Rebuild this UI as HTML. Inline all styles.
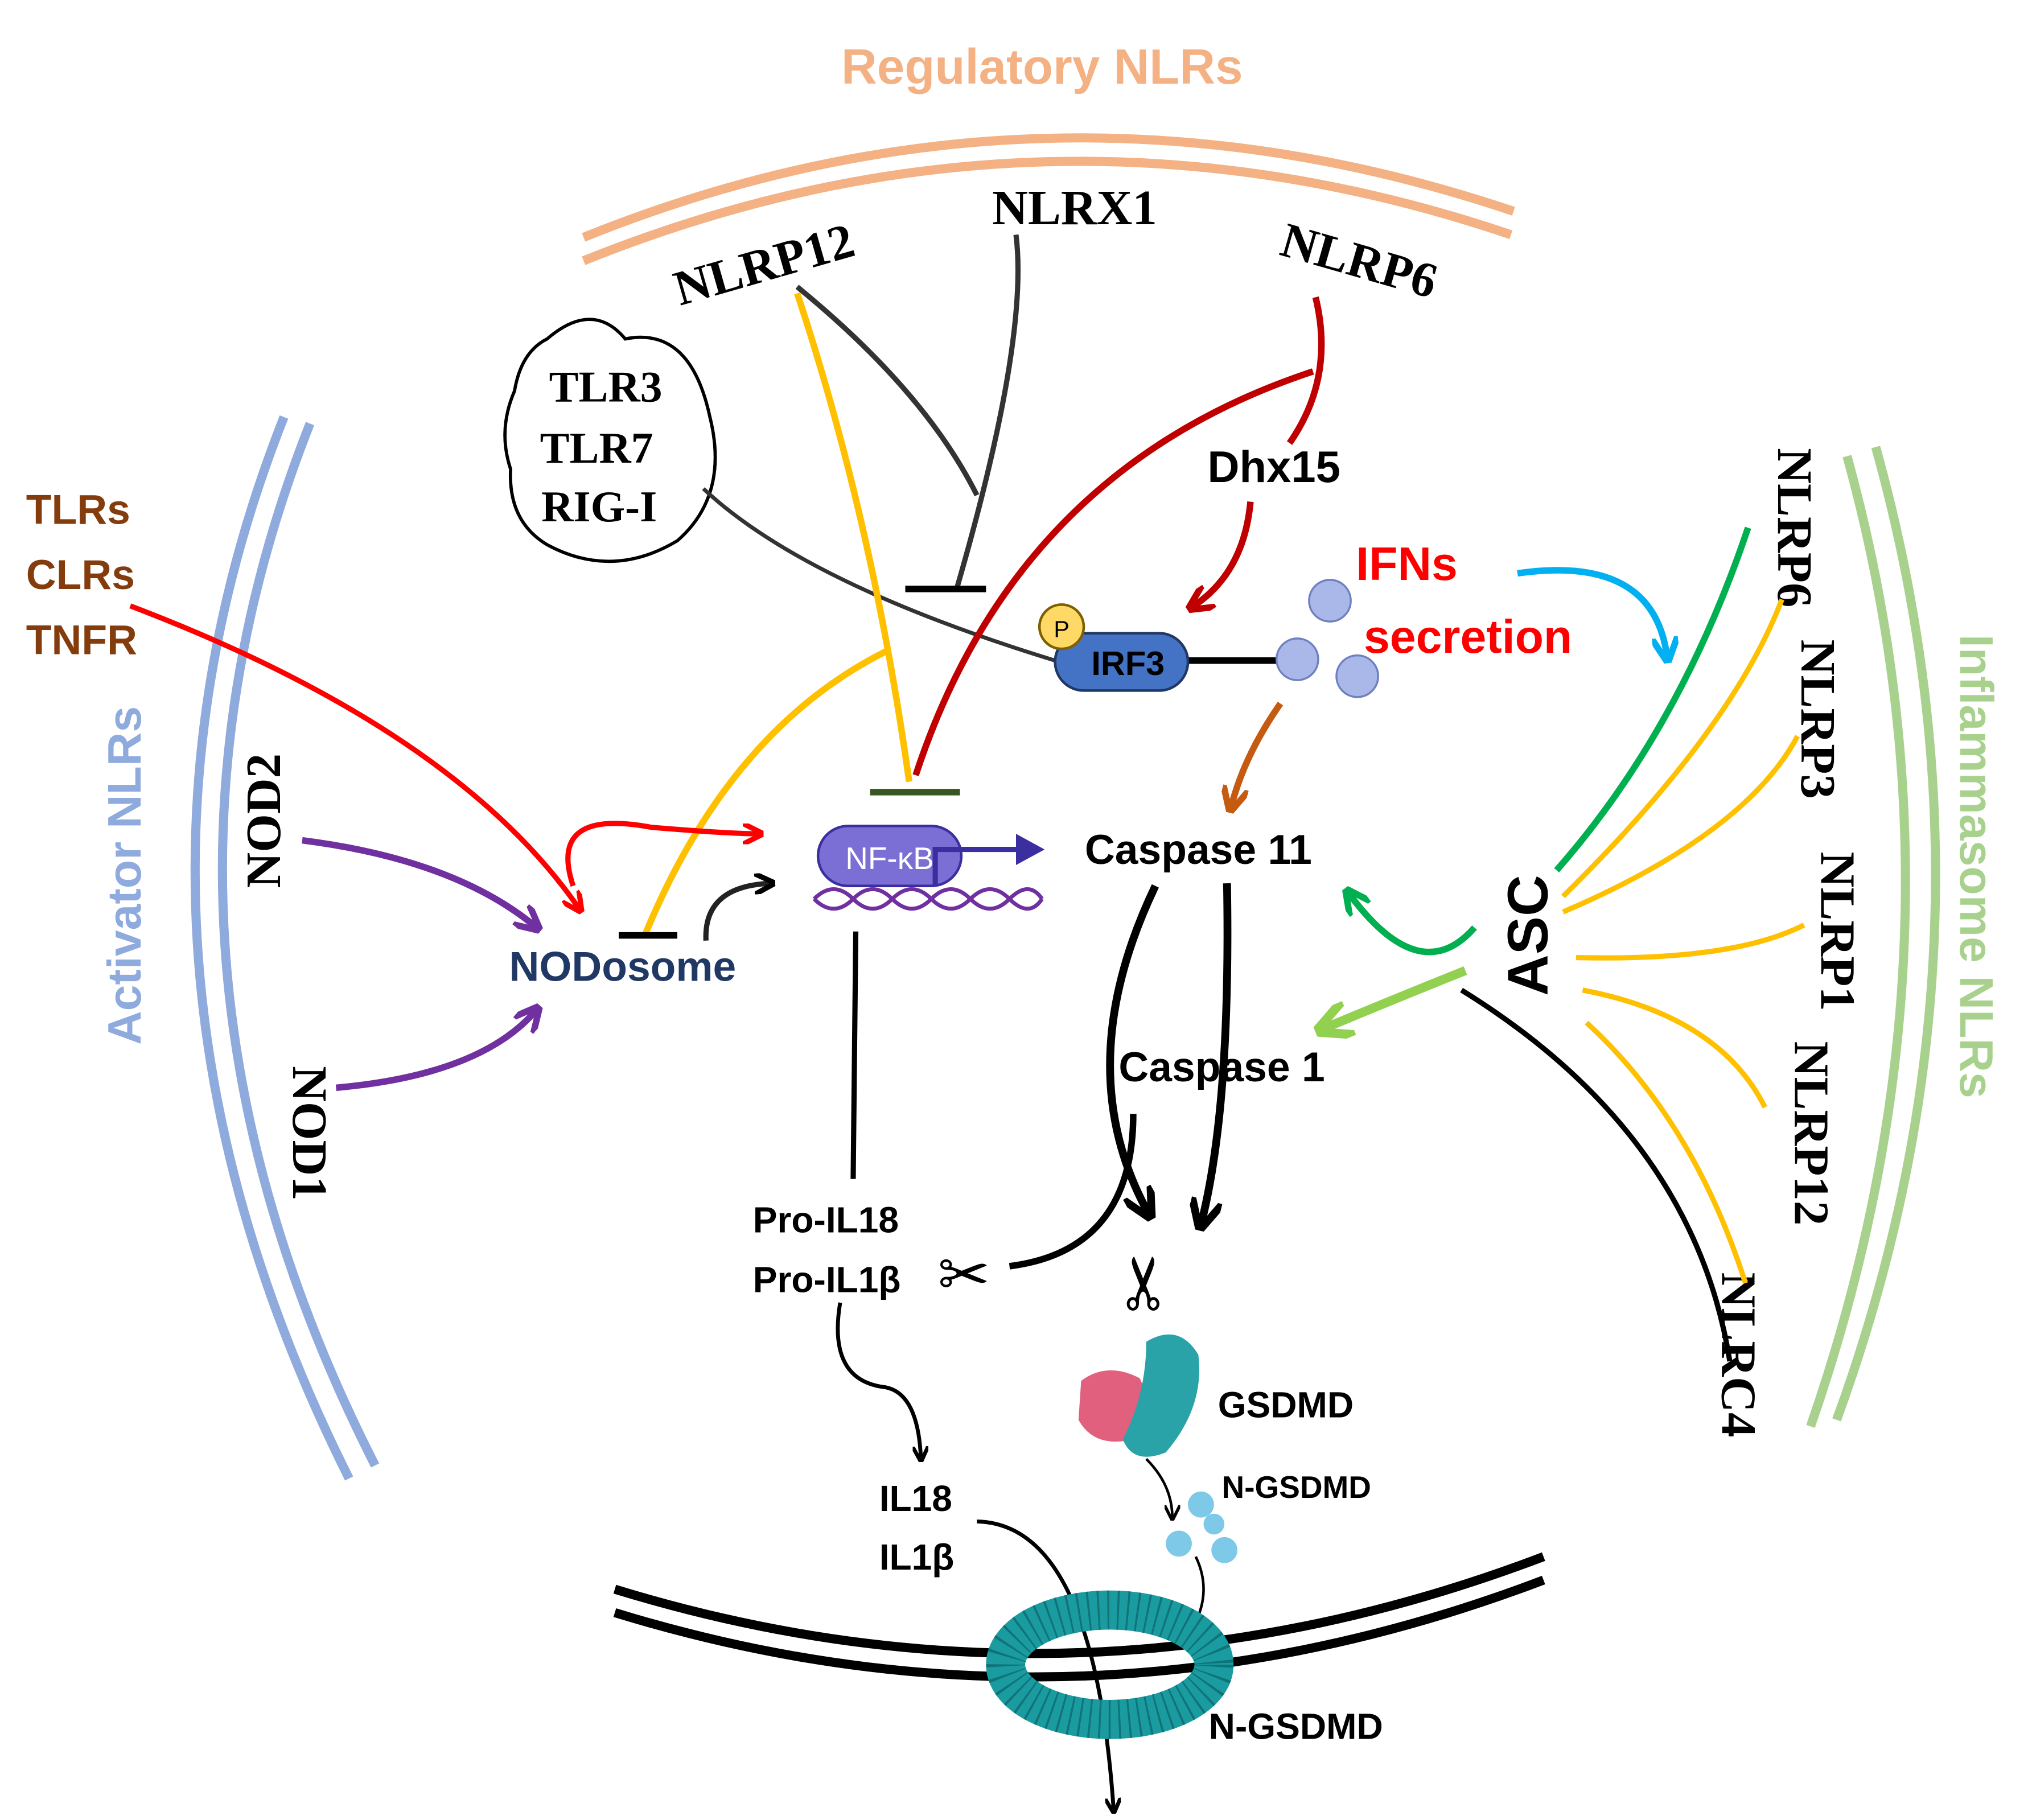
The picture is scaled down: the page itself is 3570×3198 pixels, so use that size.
<!DOCTYPE html>
<html><head><meta charset="utf-8"><style>html,body{margin:0;padding:0;background:#fff}svg{display:block}</style></head>
<body>
<svg width="3570" height="3198" viewBox="0 0 1560 1397" xmlns="http://www.w3.org/2000/svg">
<defs>
<marker id="ab" viewBox="0 0 10 10" refX="8" refY="5" markerWidth="4" markerHeight="4" orient="auto"><path d="M0,0 L10,5 L0,10" fill="none" stroke="#000" stroke-width="2.5"/></marker>
<marker id="ar" viewBox="0 0 10 10" refX="8" refY="5" markerWidth="4" markerHeight="4" orient="auto"><path d="M0,0 L10,5 L0,10" fill="none" stroke="#f00" stroke-width="2.5"/></marker>
<marker id="adr" viewBox="0 0 10 10" refX="8" refY="5" markerWidth="4" markerHeight="4" orient="auto"><path d="M0,0 L10,5 L0,10" fill="none" stroke="#c00000" stroke-width="2.5"/></marker>
<marker id="ap" viewBox="0 0 10 10" refX="8" refY="5" markerWidth="4" markerHeight="4" orient="auto"><path d="M0,0 L10,5 L0,10" fill="none" stroke="#7030a0" stroke-width="2.5"/></marker>
<marker id="ao" viewBox="0 0 10 10" refX="8" refY="5" markerWidth="4" markerHeight="4" orient="auto"><path d="M0,0 L10,5 L0,10" fill="none" stroke="#c55a11" stroke-width="2.5"/></marker>
<marker id="ac" viewBox="0 0 10 10" refX="8" refY="5" markerWidth="4" markerHeight="4" orient="auto"><path d="M0,0 L10,5 L0,10" fill="none" stroke="#00b0f0" stroke-width="2.5"/></marker>
<marker id="ag" viewBox="0 0 10 10" refX="8" refY="5" markerWidth="4" markerHeight="4" orient="auto"><path d="M0,0 L10,5 L0,10" fill="none" stroke="#00b050" stroke-width="2.5"/></marker>
<marker id="alg" viewBox="0 0 10 10" refX="8" refY="5" markerWidth="4" markerHeight="4" orient="auto"><path d="M0,0 L10,5 L0,10" fill="none" stroke="#92d050" stroke-width="2.5"/></marker>
<marker id="as" viewBox="0 0 10 10" refX="8" refY="5" markerWidth="6" markerHeight="6" orient="auto"><path d="M0,0 L10,5 L0,10" fill="none" stroke="#000" stroke-width="2"/></marker>
</defs>
<g font-family="Liberation Sans, sans-serif" font-weight="bold">
<g fill="none" stroke="#f4b183" stroke-width="7">
<path d="M448,182 Q800,40 1162,162"/><path d="M448,200 Q800,58 1160,180"/></g>
<g fill="none" stroke="#8faadc" stroke-width="7">
<path d="M218,320 Q60,720 268,1135"/><path d="M238,325 Q82,720 288,1125"/></g>
<g fill="none" stroke="#a9d18e" stroke-width="7">
<path d="M1418,350 Q1520,720 1390,1095"/><path d="M1440,343 Q1545,720 1410,1090"/></g>
<g fill="none" stroke="#000" stroke-width="7">
<path d="M472,1220 Q830,1330 1185,1195"/><path d="M472,1238 Q830,1348 1185,1213"/></g>
<text x="800" y="64" text-anchor="middle" fill="#f4b183" font-size="38">Regulatory NLRs</text>
<text transform="translate(108,672) rotate(-90)" text-anchor="middle" fill="#8faadc" font-size="36">Activator NLRs</text>
<text transform="translate(1505,665) rotate(90)" text-anchor="middle" fill="#a9d18e" font-size="36">Inflammasome NLRs</text>
<g font-family="Liberation Serif, serif" font-size="38" fill="#000">
<text transform="translate(590,215) rotate(-16)" text-anchor="middle">NLRP12</text>
<text x="825" y="172" text-anchor="middle">NLRX1</text>
<text transform="translate(1040,212) rotate(16)" text-anchor="middle">NLRP6</text>
<text transform="translate(215,630) rotate(-90)" text-anchor="middle">NOD2</text>
<text transform="translate(225,870) rotate(90)" text-anchor="middle">NOD1</text>
<text transform="translate(1365,405) rotate(90)" text-anchor="middle">NLRP6</text>
<text transform="translate(1383,552) rotate(90)" text-anchor="middle">NLRP3</text>
<text transform="translate(1398,715) rotate(90)" text-anchor="middle">NLRP1</text>
<text transform="translate(1378,870) rotate(90)" text-anchor="middle">NLRP12</text>
<text transform="translate(1322,1040) rotate(90)" text-anchor="middle">NLRC4</text>
<g font-size="34"><text x="465" y="308" text-anchor="middle">TLR3</text><text x="458" y="355" text-anchor="middle">TLR7</text><text x="460" y="400" text-anchor="middle">RIG-I</text></g>
</g>
<path d="M420,260 Q455,230 480,260 Q530,250 545,320 Q560,380 520,415 Q470,445 420,418 Q390,400 392,360 Q382,330 395,300 Q400,270 420,260 Z" fill="none" stroke="#000" stroke-width="2.5"/>
<g fill="#843c0c" font-size="32"><text x="20" y="402">TLRs</text><text x="20" y="452">CLRs</text><text x="20" y="502">TNFR</text></g>
<g fill="none" stroke-width="4">
<path d="M540,375 Q620,450 820,510" stroke="#333" stroke-width="3"/>
<path d="M612,220 Q710,300 750,380" stroke="#333"/>
<path d="M780,180 Q790,260 735,450" stroke="#333"/>
<path d="M695,452 L757,452" stroke="#000" stroke-width="5"/>
<path d="M612,225 Q670,400 698,600" stroke="#ffc000" stroke-width="5"/>
<path d="M680,500 Q560,560 495,718" stroke="#ffc000" stroke-width="5"/>
<path d="M475,718 L520,718" stroke="#000" stroke-width="5"/>
<path d="M668,608 L737,608" stroke="#375623" stroke-width="5"/>
<path d="M1010,228 Q1025,290 990,340" stroke="#c00000" stroke-width="5"/>
<path d="M1008,285 Q780,360 703,595" stroke="#c00000" stroke-width="5"/>
<path d="M960,385 Q955,440 915,466" stroke="#c00000" stroke-width="5" marker-end="url(#adr)"/>
<path d="M100,465 Q350,560 445,698" stroke="#f00" stroke-width="4" marker-end="url(#ar)"/>
<path d="M440,680 Q420,620 500,635 Q560,640 583,640" stroke="#f00" stroke-width="4" marker-end="url(#ar)"/>
<path d="M232,645 Q350,660 412,712" stroke="#7030a0" stroke-width="5" marker-end="url(#ap)"/>
<path d="M258,835 Q370,825 412,775" stroke="#7030a0" stroke-width="5" marker-end="url(#ap)"/>
<path d="M542,722 Q540,680 592,678" stroke="#222" stroke-width="4" marker-end="url(#ab)"/>
<path d="M910,507 L985,507" stroke="#000" stroke-width="5"/>
<path d="M983,540 Q955,580 945,620" stroke="#c55a11" stroke-width="5" marker-end="url(#ao)"/>
<path d="M1165,440 Q1270,425 1280,505" stroke="#00b0f0" stroke-width="5" marker-end="url(#ac)"/>
<path d="M1342,405 Q1290,560 1195,668" stroke="#00b050" stroke-width="5"/>
<path d="M1132,712 Q1090,760 1035,685" stroke="#00b050" stroke-width="5" marker-end="url(#ag)"/>
<path d="M1125,745 Q1075,765 1015,790" stroke="#92d050" stroke-width="7" marker-end="url(#alg)"/>
<g stroke="#ffc000" stroke-width="4">
<path d="M1200,688 Q1330,560 1368,460"/><path d="M1200,700 Q1340,640 1380,565"/>
<path d="M1210,735 Q1330,738 1385,710"/><path d="M1215,760 Q1320,780 1355,850"/>
<path d="M1218,785 Q1300,860 1340,985"/></g>
<path d="M1122,760 Q1300,870 1328,1045" stroke="#000" stroke-width="4"/>
<path d="M657,715 L655,905" stroke="#000" stroke-width="4"/>
<path d="M887,680 Q820,820 882,932" stroke="#000" stroke-width="6" marker-end="url(#ab)"/>
<path d="M942,678 Q945,850 922,940" stroke="#000" stroke-width="6" marker-end="url(#ab)"/>
<path d="M870,855 Q870,960 775,972" stroke="#000" stroke-width="5"/>
<path d="M645,1000 Q635,1060 680,1065 Q705,1070 707,1120" stroke="#000" stroke-width="3" marker-end="url(#ab)"/>
<path d="M750,1168 Q840,1170 855,1390" stroke="#000" stroke-width="3" marker-end="url(#ab)"/>
<path d="M880,1120 Q900,1140 900,1165" stroke="#000" stroke-width="2" marker-end="url(#as)"/>
<path d="M918,1195 Q930,1220 918,1245" stroke="#000" stroke-width="2"/>
</g>
<ellipse cx="852" cy="1278" rx="80" ry="42" fill="none" stroke="#1a9ba0" stroke-width="30"/>
<ellipse cx="852" cy="1278" rx="80" ry="42" fill="none" stroke="#0f7378" stroke-width="30" stroke-dasharray="1.5 6"/>
<rect x="628" y="634" width="110" height="46" rx="23" fill="#7b6fd6" stroke="#3b2fa0" stroke-width="2"/>
<text x="683" y="667" text-anchor="middle" fill="#fff" font-size="24" font-weight="normal">NF-κB</text>
<path d="M625,690 Q640,675 655,690 T685,690 T715,690 T745,690 T775,690 T800,690 M625,690 Q640,705 655,690 T685,690 T715,690 T745,690 T775,690 T800,690" fill="none" stroke="#7030a0" stroke-width="3"/>
<path d="M718,680 L718,652 L780,652" fill="none" stroke="#3b2fa0" stroke-width="4"/>
<path d="M780,640 L802,652 L780,664 Z" fill="#3b2fa0"/>
<rect x="810" y="486" width="102" height="44" rx="22" fill="#4472c4" stroke="#203864" stroke-width="2"/>
<text x="866" y="518" text-anchor="middle" fill="#000" font-size="26">IRF3</text>
<circle cx="815" cy="481" r="17" fill="#ffd966" stroke="#7f6000" stroke-width="2"/>
<text x="815" y="489" text-anchor="middle" font-size="18" font-weight="normal">P</text>
<g fill="#a9b8e8" stroke="#6f7fc0" stroke-width="1.5"><circle cx="1021" cy="461" r="16"/><circle cx="996" cy="506" r="16"/><circle cx="1042" cy="519" r="16"/></g>
<path d="M830,1060 Q850,1045 875,1058 Q890,1090 870,1105 Q840,1112 828,1090 Z" fill="#e0607e"/>
<path d="M880,1030 Q905,1015 920,1040 Q925,1080 895,1115 Q870,1125 862,1105 Q880,1070 880,1030 Z" fill="#2aa3a8"/>
<g fill="#7ec8e8"><circle cx="922" cy="1155" r="10"/><circle cx="905" cy="1185" r="10"/><circle cx="940" cy="1190" r="10"/><circle cx="932" cy="1170" r="8"/></g>
<text transform="translate(898,985) rotate(-90)" text-anchor="middle" font-size="56" font-weight="normal">✂</text>
<text x="740" y="995" text-anchor="middle" font-size="48" font-weight="normal">✂</text>
<text x="478" y="753" text-anchor="middle" fill="#1f3864" font-size="32">NODosome</text>
<text x="920" y="663" text-anchor="middle" font-size="32">Caspase 11</text>
<text x="938" y="830" text-anchor="middle" font-size="32">Caspase 1</text>
<text x="978" y="370" text-anchor="middle" font-size="34">Dhx15</text>
<text x="1080" y="445" text-anchor="middle" fill="#f00" font-size="36">IFNs</text>
<text x="1127" y="501" text-anchor="middle" fill="#f00" font-size="36">secretion</text>
<text transform="translate(1188,718) rotate(-90)" text-anchor="middle" font-size="44">ASC</text>
<text x="578" y="946" font-size="28">Pro-IL18</text>
<text x="578" y="992" font-size="28">Pro-IL1β</text>
<text x="675" y="1160" font-size="28">IL18</text>
<text x="675" y="1205" font-size="28">IL1β</text>
<text x="935" y="1088" font-size="28">GSDMD</text>
<text x="938" y="1150" font-size="24">N-GSDMD</text>
<text x="928" y="1335" font-size="28">N-GSDMD</text>
</g>
</svg>
</body></html>
